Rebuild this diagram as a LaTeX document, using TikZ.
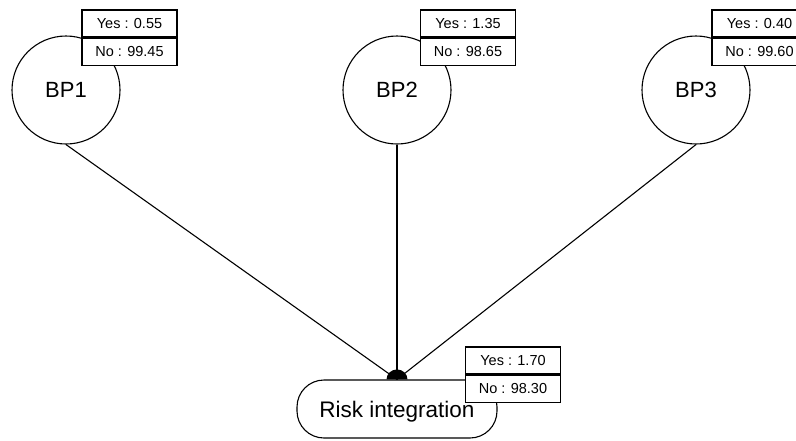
\documentclass[tikz,border=0pt]{standalone}
\usepackage{fontspec}
\setmainfont{Liberation Sans}
\usetikzlibrary{positioning}

\begin{document}
\begin{tikzpicture}[x=1pt,y=-1pt,line width=1.1pt]
    \tikzstyle{bp}=[draw, circle, minimum size=108pt, inner sep=0pt, font=\fontsize{22}{22}\selectfont]
    \tikzstyle{state}=[draw, fill=white, rectangle, minimum width=95pt, minimum height=27pt, inner sep=0pt, font=\fontsize{14.5}{14.5}\selectfont]
    \tikzstyle{risk}=[draw, rectangle, rounded corners=27pt, minimum width=200pt, minimum height=58pt, inner sep=0pt, text depth=0pt, font=\fontsize{22.5}{22.5}\selectfont]
    \useasboundingbox (0,0) rectangle (796,440);
    \node[bp] (bp1) at (66,90) {BP1};
    \node[bp] (bp2) at (397,90) {BP2};
    \node[bp] (bp3) at (696,90) {BP3};
    \node[risk] (risk) at (397,409) {Risk integration};
    \coordinate (join) at (risk.north);
    \draw (bp1.south) -- (join);
    \draw (bp2.south) -- (join);
    \draw (bp3.south) -- (join);
    \fill ([xshift=-10.5pt]join) arc[start angle=180, end angle=0, x radius=10.5pt, y radius=10pt] -- cycle;
    % probability tables
    \node[state] (yes1) at (129.5,23.5) {Yes : 0.55};
    \node[state, below=0pt of yes1] (no1) {No : 99.45};
    \node[state] (yes2) at (468,23.5) {Yes : 1.35};
    \node[state, below=0pt of yes2] (no2) {No : 98.65};
    \node[state] (yes3) at (759.5,23.5) {Yes : 0.40};
    \node[state, below=0pt of yes3] (no3) {No : 99.60};
    \node[state] (yes4) at (513,360.5) {Yes : 1.70};
    \node[state, below=0pt of yes4] (no4) {No : 98.30};
\end{tikzpicture}
\end{document}
